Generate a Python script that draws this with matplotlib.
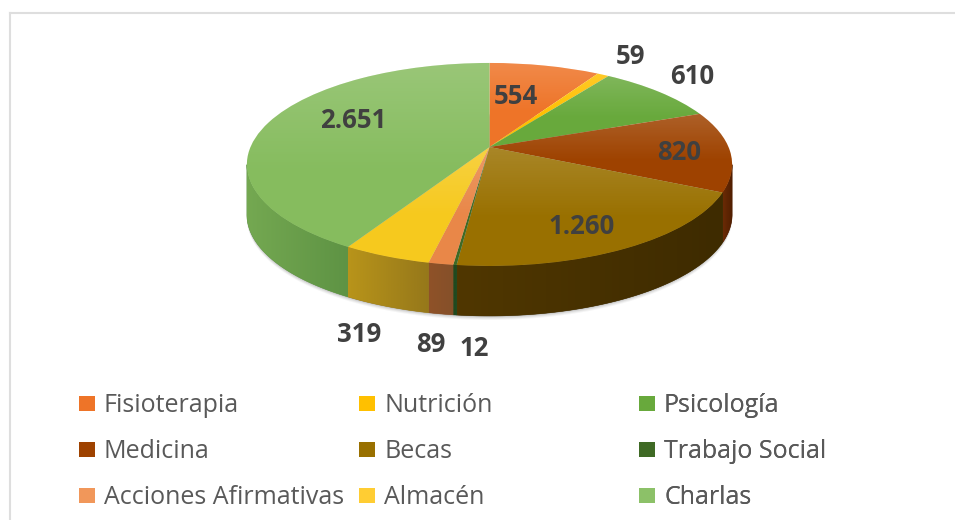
import numpy as np
import matplotlib
matplotlib.use("Agg")
import matplotlib.pyplot as plt
from matplotlib.colors import to_rgb
from matplotlib.lines import Line2D
from matplotlib.patches import Patch, Polygon
from matplotlib.transforms import Transform

categories = ["Fisioterapia", "Nutrición", "Psicología", "Medicina", "Becas",
              "Trabajo Social", "Acciones Afirmativas", "Almacén", "Charlas"]
values = [554, 59, 610, 820, 1260, 12, 89, 319, 2651]
value_labels = ["554", "59", "610", "820", "1.260", "12", "89", "319", "2.651"]

top_colors = ["#EE7428", "#FFC000", "#68A93C", "#9E4200", "#997000",
              "#3F6A25", "#E98748", "#F6C91E", "#86BC5E"]
wall_left = ["#8A4A1C", "#997300", "#3F6A25", "#6A2A05", "#503700",
             "#1F4A1F", "#8F5228", "#B8941A", "#74A851"]
wall_right = ["#8A4A1C", "#997300", "#3F6A25", "#4F1E00", "#3E2B00",
              "#1F4A1F", "#85502A", "#96781A", "#5E9344"]
legend_colors = ["#EE7428", "#FFC000", "#68A93C", "#9E4200", "#997000",
                 "#3F6A25", "#F1975A", "#FFCD33", "#8CC168"]
label_xy = [(516, 97), (630, 56), (692, 77), (679, 153), (582, 227),
            (474, 349), (431, 345), (359, 334), (353, 121)]

CX, CY, A, B, K, DEPTH = 489.5, 147.0, 98.5, 239.0, 0.172, 50.0


class Disk(Transform):
    """Tilted disk in perspective, from the unit pie to pixel coordinates."""
    input_dims = output_dims = 2
    is_separable = False
    has_inverse = False

    def __init__(self, dy=0.0):
        super().__init__()
        self.dy = dy

    def transform_non_affine(self, xy):
        xy = np.asarray(xy, float)
        w = 1 + K * xy[:, 1]
        return np.column_stack((CX + B * xy[:, 0] / w,
                                CY - A * xy[:, 1] / w + self.dy))


def on_disk(theta_deg, dy=0.0):
    t = np.radians(theta_deg)
    return Disk(dy).transform_non_affine(np.column_stack((np.cos(t), np.sin(t))))


fig = plt.figure(figsize=(9.55, 5.2), dpi=100, facecolor="white")
ax = fig.add_axes([0, 0, 1, 1])

wedges, _ = ax.pie(values, colors=top_colors, startangle=90, counterclock=False,
                   wedgeprops={"linewidth": 0, "zorder": 5})
ax.set_aspect("auto")
ax.axis("off")

disk = Disk()
for wedge in wedges:
    wedge.set_transform(disk + ax.transData)
    wedge.set_clip_on(False)

# soft shadow below the side wall
ring = np.linspace(0, 360, 181)
for extra, alpha in [(4, 0.06), (3, 0.08), (2, 0.10), (1, 0.14)]:
    ax.add_patch(Polygon(on_disk(ring, DEPTH + extra), closed=True, facecolor="#555555",
                         edgecolor="none", alpha=alpha, zorder=1))


def gradient_image(rgba, extent, clip, zorder):
    im = ax.imshow(rgba, extent=extent, aspect="auto", origin="upper",
                   interpolation="bilinear", zorder=zorder)
    im.set_clip_path(clip)
    return im


# side wall, visible between the two silhouette points of the disk
for wedge, cl, cr in zip(wedges, wall_left, wall_right):
    t1, t2 = wedge.theta1 % 360, wedge.theta2 % 360
    if t2 <= t1:
        t2 += 360
    for shift in (0, 360):
        lo, hi = max(t1 + shift, 190), min(t2 + shift, 350)
        if hi <= lo:
            continue
        arc = np.linspace(lo, hi, max(int(hi - lo) * 2, 4))
        pts = np.vstack((on_disk(arc), on_disk(arc[::-1], DEPTH)))
        poly = Polygon(pts, closed=True, transform=ax.transData)
        x0, x1 = pts[:, 0].min(), pts[:, 0].max()
        y0, y1 = pts[:, 1].min(), pts[:, 1].max()
        f = np.linspace(0, 1, 64)[:, None]
        row = (1 - f) * np.array(to_rgb(cl)) + f * np.array(to_rgb(cr))
        gradient_image(row[None, :, :], (x0, x1, y1, y0), poly, 3)
        # fill the seams between neighbouring slices
        ax.add_patch(Polygon(pts, closed=True, facecolor=cr, edgecolor=cr,
                             linewidth=0.4, zorder=2))

# lighter sheen at the back of every slice
for wedge in wedges:
    pts = (wedge.get_patch_transform() + disk).transform(wedge.get_path().vertices)
    x0, x1 = pts[:, 0].min(), pts[:, 0].max()
    y0, y1 = pts[:, 1].min(), pts[:, 1].max()
    ramp = np.clip(1 - np.linspace(0, 1, 64) / 0.6, 0, 1) * 0.16
    rgba = np.ones((64, 1, 4))
    rgba[:, 0, 3] = ramp
    gradient_image(rgba, (x0, x1, y1, y0), wedge, 6)

for text, (x, y) in zip(value_labels, label_xy):
    ax.text(x, y, text, ha="center", va="center", fontsize=18.5, fontweight="bold",
            family="Open Sans", color="#404040", zorder=8)

# one legend per column, to hold the reference's even column spacing
for col, x in enumerate([79 / 955, 359 / 955, 639 / 955]):
    idx = range(col, 9, 3)
    handles = [Patch(facecolor=legend_colors[i], edgecolor="none") for i in idx]
    leg = ax.legend(handles, [categories[i] for i in idx], loc="upper left",
                    bbox_to_anchor=(x, 1 - 393 / 520), bbox_transform=ax.transAxes,
                    frameon=False, prop={"family": "Open Sans", "size": 18},
                    labelcolor="#595959", handlelength=0.64, handleheight=0.56,
                    handletextpad=0.36, labelspacing=0.84, borderpad=0, borderaxespad=0)
    ax.add_artist(leg)

# chart frame, cut off by the crop on the right and bottom
for xs, ys in [((10, 955), (13, 13)), ((10, 10), (13, 520))]:
    ax.add_line(Line2D(xs, ys, color="#DEDEDE", linewidth=1.5, zorder=0))

ax.set_xlim(0, 955)
ax.set_ylim(520, 0)
fig.savefig("out.png", dpi=100)
